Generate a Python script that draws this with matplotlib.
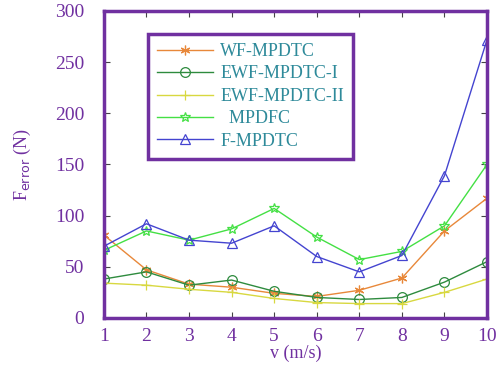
import numpy as np
import matplotlib
matplotlib.use("Agg")
import matplotlib.pyplot as plt

speed = [1, 2, 3, 4, 5, 6, 7, 8, 9, 10]
wf_mpdtc = [81, 47, 33, 30, 24, 21, 27, 39, 85, 117]
ewf_mpdtc_1 = [38, 45, 32, 37, 26, 20, 18, 20, 35, 55]
ewf_mpdtc_2 = [34, 32, 28, 25, 19, 15, 14, 14, 25, 38]
mpdfc = [66, 85, 76, 87, 107, 79, 57, 65, 90, 150]
f_mpdtc = [70, 92, 76, 73, 90, 60, 45, 61, 139, 272]

purple = "#7030a0"
series = [
    ("WF-MPDTC", wf_mpdtc, "#e8883a", (6, 2, 0)),
    ("EWF-MPDTC-I", ewf_mpdtc_1, "#2e8b3e", "o"),
    ("EWF-MPDTC-II", ewf_mpdtc_2, "#d8d840", "+"),
    ("  MPDFC", mpdfc, "#44e044", "*"),
    ("F-MPDTC", f_mpdtc, "#4444d0", "^"),
]

plt.rcParams["font.family"] = ["Liberation Serif", "DejaVu Serif"]

fig = plt.figure(figsize=(4.97, 3.65), dpi=100)
ax = fig.add_axes([0.209, 0.129, 0.771, 0.841])

for label, vals, col, mk in series:
    ax.plot(speed, vals, color=col, marker=mk, markersize=7,
            markerfacecolor="none", markeredgecolor=col, linewidth=1.0,
            markeredgewidth=0.9, label=label)

ax.set_xlim(1, 10)
ax.set_ylim(0, 300)
ax.set_xticks(speed)
ax.set_yticks(range(0, 301, 50))
ax.tick_params(direction="in", top=True, right=True, colors="#444444",
               labelcolor=purple, labelsize=14, length=4)
ax.tick_params(axis="y", pad=14)
ax.tick_params(axis="x", pad=7)
for s in ax.spines.values():
    s.set_color(purple)
    s.set_linewidth(2.5)

ax.set_xlabel("v (m/s)", color=purple, fontsize=13, labelpad=0)
ax.set_ylabel(r"F$_{\mathrm{error}}$ (N)", color=purple, fontsize=13)
ax.yaxis.set_label_coords(-0.185, 0.5)

leg = ax.legend(loc="upper left", bbox_to_anchor=(0.115, 0.925), fontsize=13,
                handlelength=3.1, handletextpad=0.4, labelspacing=0.3,
                borderpad=0.5, borderaxespad=0, fancybox=False, framealpha=1)
leg.get_frame().set_edgecolor(purple)
leg.get_frame().set_linewidth(2.5)
for t in leg.get_texts():
    t.set_color("#2e8a9a")

fig.savefig("out.png", dpi=100)
